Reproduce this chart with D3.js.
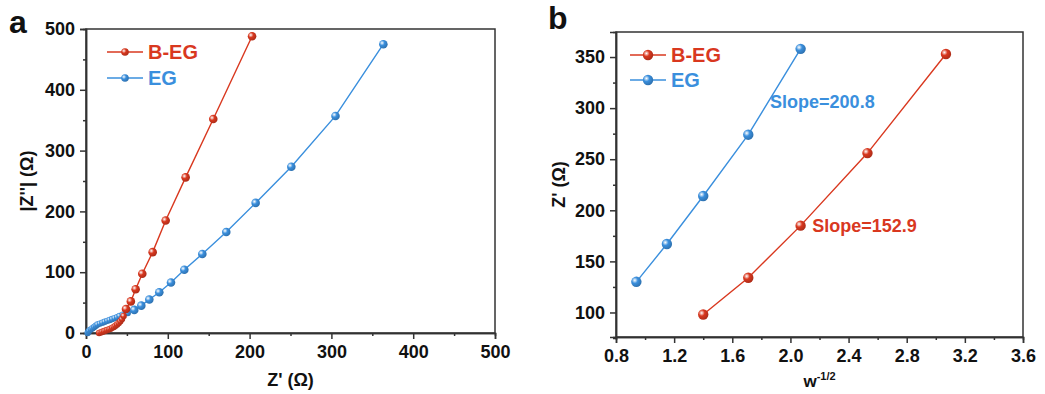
<!DOCTYPE html>
<html>
<head>
<meta charset="utf-8">
<script src="https://cdn.jsdelivr.net/npm/d3@7"></script>
<style>
  body{margin:0;background:#fff;}
  svg text{font-family:"Liberation Sans",Arial,sans-serif;font-weight:bold;}
  .axis path,.axis line{stroke:#333;stroke-width:1.5;}
  .axis text{font-size:18px;fill:#111;}
</style>
</head>
<body>
<div id="chart"></div>
<script>
/* Panel a: Nyquist plots. Panel b: Z' vs w^-1/2 with linear slopes. */
var seriesNames=["B-EG","EG"];
var colors={"B-EG":"#d9381f","EG":"#3a8fdd"};

// panel a, Z' (x) and |Z''| (y)
var nyqBEG_x=[16,18,20,22,24,26,28,30,32,34,36,38,40,42,44,46,48.9,54.8,60.7,68.8,81.5,97.4,121.8,155.6,203];
var nyqBEG_y=[0,1,2,3,4,5,6,7,8.5,10,12,14,16.5,19.5,23,28,39.5,52,72,97.5,133,185,256,352,488];
var nyqEG_x=[2,3,4,6,8,10,12,14,17,20,23,26,29,32,35,38,41,45,51,59,67.6,77.4,89.6,103.9,120.2,142.2,171.5,207.4,251,305,363.5];
var nyqEG_y=[0,2,4,6,8,10,12,14,15.5,17,18.5,20,21.5,23,24.5,26,28,30,33,38,45,55,67,83,104,130,166,214,273.5,357,475];

// panel b, w^-1/2 (x) and Z' (y)
var wBEG=[1.40,1.71,2.07,2.53,3.07];
var zBEG=[98,134,185,256,353];
var wEG=[0.94,1.15,1.40,1.71,2.07];
var zEG=[130,167,214,274,358];

var ticksA=[0,100,200,300,400,500];
var ticksBx=[0.8,1.2,1.6,2.0,2.4,2.8,3.2,3.6];
var ticksBy=[100,150,200,250,300,350];
var slopeLabels=[{name:"EG",text:"Slope=200.8",x:1.86,y:300},{name:"B-EG",text:"Slope=152.9",x:2.15,y:179}];

var W=1045,H=394;
var svg=d3.select("#chart").append("svg").attr("width",W).attr("height",H);

// sphere-like gradients
var defs=svg.append("defs");
seriesNames.forEach(function(n){
  var g=defs.append("radialGradient").attr("id","grad-"+n).attr("cx","35%").attr("cy","35%").attr("r","65%");
  g.append("stop").attr("offset","0%").attr("stop-color","#fff").attr("stop-opacity",0.95);
  g.append("stop").attr("offset","45%").attr("stop-color",colors[n]);
  g.append("stop").attr("offset","100%").attr("stop-color",d3.color(colors[n]).darker(0.6));
});

function zip(xs,ys){return xs.map(function(v,i){return {x:v,y:ys[i]};});}

function frame(g,x,y,xt,yt,xfmt,yfmt,xminor,yminor){
  var w=x.range()[1]-x.range()[0], h=y.range()[0]-y.range()[1];
  g.append("g").attr("class","axis").attr("transform","translate(0,"+y.range()[0]+")")
    .call(d3.axisBottom(x).tickValues(xminor).tickSize(3).tickFormat(""));
  g.append("g").attr("class","axis").attr("transform","translate(0,"+y.range()[0]+")")
    .call(d3.axisBottom(x).tickValues(xt).tickSize(6).tickPadding(6).tickFormat(xfmt));
  g.append("g").attr("class","axis").attr("transform","translate("+x.range()[0]+",0)")
    .call(d3.axisLeft(y).tickValues(yminor).tickSize(3).tickFormat(""));
  g.append("g").attr("class","axis").attr("transform","translate("+x.range()[0]+",0)")
    .call(d3.axisLeft(y).tickValues(yt).tickSize(6).tickPadding(5).tickFormat(yfmt));
  g.selectAll(".axis .domain").attr("stroke","#333").attr("stroke-width",1.5);
  g.append("rect").attr("x",x.range()[0]).attr("y",y.range()[1]).attr("width",w).attr("height",h)
    .attr("fill","none").attr("stroke","#333").attr("stroke-width",1.5);
}

function series(g,x,y,pts,name,r){
  var line=d3.line().x(function(d){return x(d.x);}).y(function(d){return y(d.y);});
  g.append("path").datum(pts).attr("fill","none").attr("stroke",colors[name]).attr("stroke-width",1.4).attr("d",line);
  g.append("g").selectAll("circle").data(pts).enter().append("circle")
    .attr("cx",function(d){return x(d.x);}).attr("cy",function(d){return y(d.y);})
    .attr("r",function(d){return typeof r==="function"?r(d):r;})
    .attr("fill","url(#grad-"+name+")");
}

function legend(g,x0,y0,r,gap){
  seriesNames.forEach(function(n,i){
    var yy=y0+i*gap;
    g.append("line").attr("x1",x0).attr("x2",x0+36).attr("y1",yy).attr("y2",yy).attr("stroke",colors[n]).attr("stroke-width",1.6);
    g.append("circle").attr("cx",x0+18).attr("cy",yy).attr("r",r).attr("fill","url(#grad-"+n+")");
    g.append("text").attr("x",x0+41).attr("y",yy+7).attr("fill",colors[n]).style("font-size","20px").text(n);
  });
}

// ---------- panel a ----------
var ga=svg.append("g");
var xa=d3.scaleLinear().domain([0,500]).range([86,495]);
var ya=d3.scaleLinear().domain([0,500]).range([333,29]);
frame(ga,xa,ya,ticksA,ticksA,d3.format("d"),d3.format("d"),d3.range(50,500,100),d3.range(50,500,100));
var ra=function(d){return d.y<35?3.2:4.3;};
series(ga,xa,ya,zip(nyqEG_x,nyqEG_y),"EG",ra);
series(ga,xa,ya,zip(nyqBEG_x,nyqBEG_y),"B-EG",ra);
legend(ga,107,52,3.8,26);
ga.append("text").attr("x",9).attr("y",33).style("font-size","32px").attr("fill","#111").text("a");
ga.append("text").attr("x",(86+495)/2).attr("y",386).attr("text-anchor","middle").style("font-size","18px").attr("fill","#111").text("Z' (Ω)");
ga.append("text").attr("transform","translate(33,"+((29+333)/2)+") rotate(-90)").attr("text-anchor","middle")
  .style("font-size","18px").attr("fill","#111").text("|Z''| (Ω)");

// ---------- panel b ----------
var gb=svg.append("g");
var xb=d3.scaleLinear().domain([0.8,3.6]).range([616,1023]);
var yb=d3.scaleLinear().domain([76,374.5]).range([337,32]);
frame(gb,xb,yb,ticksBx,ticksBy,d3.format(".1f"),d3.format("d"),d3.range(1.0,3.6,0.4),d3.range(75,375,50));
series(gb,xb,yb,zip(wEG,zEG),"EG",5.2);
series(gb,xb,yb,zip(wBEG,zBEG),"B-EG",5.2);
legend(gb,630,55,5.2,25);
slopeLabels.forEach(function(s){
  gb.append("text").attr("x",xb(s.x)).attr("y",yb(s.y)).attr("fill",colors[s.name]).style("font-size","18px").text(s.text);
});
gb.append("text").attr("x",548).attr("y",29).style("font-size","32px").attr("fill","#111").text("b");
var xl=gb.append("text").attr("x",(616+1023)/2).attr("y",387).attr("text-anchor","middle").style("font-size","17px").attr("fill","#111");
xl.append("tspan").text("w");
xl.append("tspan").attr("dy",-7).style("font-size","11px").text("-1/2");
gb.append("text").attr("transform","translate(565,"+((32+337)/2)+") rotate(-90)").attr("text-anchor","middle")
  .style("font-size","18px").attr("fill","#111").text("Z' (Ω)");
</script>
</body>
</html>
